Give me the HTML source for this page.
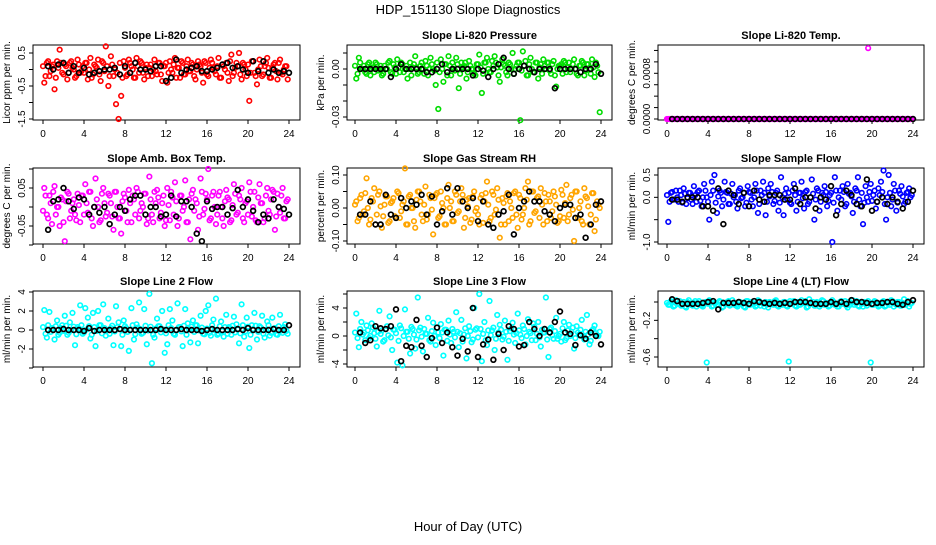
<!DOCTYPE html>
<html><head><meta charset="utf-8"><style>
html,body{margin:0;padding:0;background:#fff}
svg text{font-family:"Liberation Sans",sans-serif}
</style></head><body>
<svg id="chart" width="936" height="540" xmlns="http://www.w3.org/2000/svg">
<rect width="936" height="540" fill="#fff"/>
<text x="468" y="14" text-anchor="middle" font-size="13">HDP_151130  Slope Diagnostics</text>
<text x="468" y="531" text-anchor="middle" font-size="13">Hour of Day (UTC)</text>
</svg>
<script>
const xTicks = [0,4,8,12,16,20,24];
const titles = ["Slope Li-820 CO2","Slope Li-820 Pressure","Slope Li-820 Temp.","Slope Amb. Box Temp.","Slope Gas Stream RH","Slope Sample Flow","Slope Line 2 Flow","Slope Line 3 Flow","Slope Line 4 (LT) Flow"];
const yTitles = ["Licor ppm per min.","kPa per min.","degrees C per min.","degrees C per min.","percent per min.","ml/min per min.","ml/min per min.","ml/min per min.","ml/min per min."];
const colors = ["#ff0000","#00dd00","#ff00ff","#ff00ff","#ffa500","#0000ff","#00ffff","#00ffff","#00ffff"];
const yTickVals = [[0.5,0,-0.5,-1,-1.5],[0.01,0,-0.01,-0.02,-0.03],[0,0.0002,0.0004,0.0006,0.0008,0.001,0.0012],[0.1,0.05,0,-0.05,-0.1],[0.1,0.05,0,-0.05,-0.1],[0.5,0,-0.5,-1],[4,2,0,-2,-4],[6,4,2,0,-2,-4],[0,-0.2,-0.4,-0.6]];
const yTickLabels = [["0.5","","-0.5","","-1.5"],["","0.00","","","-0.03"],["0.0000","","","","0.0008","",""],["","0.05","","-0.05",""],["0.10","","0.00","","-0.10"],["0.5","0.0","","-1.0"],["4","2","0","-2",""],["","4","","0","","-4"],["","-0.2","","-0.6"]];
// colored series, 96 values each at hours 0.125 + 0.25*i
const co2 = [-0.4,0.2,-0.2,0.1,-0.6,0.25,0.6,-0.1,0.15,-0.3,0.2,0.05,-0.25,0.3,-0.1,0.1,
0.2,-0.3,0.35,-0.15,0.1,0.3,-0.35,0.2,0.7,-0.5,0.4,-0.2,-1.05,-1.5,-0.8,0.25,
-0.2,0.3,0.1,-0.25,0.35,-0.1,0.2,-0.3,0.15,0.05,-0.2,0.3,-0.15,0.2,-0.35,0.1,
-0.4,0.25,-0.1,0.35,0.05,-0.25,0.2,-0.15,0.3,-0.05,0.15,-0.3,0.25,0.1,-0.4,0.2,
-0.2,0.3,0.05,-0.15,0.35,-0.25,0.1,0.2,-0.35,0.45,-0.1,0.2,0.5,-0.3,0.15,-0.2,
-0.95,0.25,-0.1,-0.45,0.3,-0.2,0.1,0.35,-0.25,0.05,0.2,-0.3,0.3,-0.15,0.1,-0.3];
const pressure = [-0.006,0.007,0.0,0.002,-0.003,0.004,0.0,-0.002,0.003,0.0,-0.004,0.002,0.0,0.005,-0.003,0.001,
0.006,-0.002,0.003,0.0,-0.006,0.004,0.001,0.008,-0.003,0.002,0.0,0.005,-0.004,0.007,0.0,-0.01,
-0.025,0.006,-0.008,0.003,0.008,-0.004,0.0,0.007,-0.012,0.004,0.002,-0.006,0.005,0.0,-0.003,0.003,
0.009,-0.015,0.004,0.007,-0.002,0.005,0.008,0.001,-0.008,0.006,0.002,-0.004,0.003,0.01,0.0,0.004,
-0.032,0.011,0.005,-0.004,0.007,-0.002,0.004,-0.006,0.003,0.006,0.0,0.004,-0.003,0.005,-0.011,0.002,
0.003,0.005,-0.002,0.004,0.0,0.006,-0.003,0.002,0.005,-0.004,0.003,0.0,0.006,-0.005,0.002,-0.027];
const licorTemp = [0,0,0,0,0,0,0,0,0,0,0,0,0,0,0,0,
0,0,0,0,0,0,0,0,0,0,0,0,0,0,0,0,
0,0,0,0,0,0,0,0,0,0,0,0,0,0,0,0,
0,0,0,0,0,0,0,0,0,0,0,0,0,0,0,0,
0,0,0,0,0,0,0,0,0,0,0,0,0,0,0.00124,0,
0,0,0,0,0,0,0,0,0,0,0,0,0,0,0,0];
const boxTemp = [0.05,-0.02,0.03,-0.045,0.055,0.0,-0.05,0.02,-0.09,0.04,-0.03,0.01,-0.02,0.035,-0.04,0.03,
0.06,-0.015,0.04,-0.05,0.075,0.0,-0.035,0.05,-0.025,0.035,0.01,-0.06,0.04,-0.03,-0.07,0.035,
-0.01,0.045,-0.04,0.02,0.05,-0.03,0.01,0.035,-0.045,0.08,-0.02,0.04,0.045,-0.03,0.01,-0.05,
0.05,-0.035,0.025,0.065,-0.05,0.03,-0.01,0.07,-0.04,-0.085,0.045,0.02,-0.06,0.075,-0.02,0.035,
0.1,-0.03,0.04,-0.045,0.03,0.0,-0.05,0.045,0.02,-0.035,0.06,-0.02,0.03,0.05,-0.04,0.015,
0.065,-0.025,0.04,-0.04,0.06,0.01,-0.03,0.05,-0.02,0.045,-0.06,0.035,-0.015,0.05,-0.03,0.02];
const gasRH = [0.02,-0.03,0.04,-0.01,0.09,-0.05,0.03,0.06,-0.02,0.05,-0.06,0.01,0.035,-0.04,0.02,-0.025,
0.05,-0.03,0.01,0.12,-0.05,0.04,0.0,-0.06,0.05,0.02,-0.04,0.065,-0.02,0.03,-0.08,0.04,
-0.03,0.05,0.0,-0.05,0.07,0.02,-0.04,0.04,-0.01,0.06,-0.06,0.025,0.03,-0.035,0.05,0.0,
-0.05,0.04,0.02,0.08,-0.04,0.05,-0.02,0.06,-0.09,0.03,-0.05,0.045,0.02,-0.03,0.05,-0.06,
0.03,-0.02,0.06,0.08,-0.04,0.05,-0.01,0.035,0.06,-0.05,0.02,0.04,-0.03,0.05,0.01,-0.04,
0.055,-0.03,0.07,-0.02,0.04,-0.1,0.05,0.0,-0.04,0.06,0.03,-0.05,0.045,-0.07,0.02,0.0];
const sampleFlow = [-0.55,0.1,-0.05,0.15,-0.1,0.05,0.2,-0.15,0.1,-0.05,0.25,-0.1,0.15,-0.2,0.3,0.0,
-0.5,0.35,0.5,-0.35,0.15,-0.2,0.35,0.1,-0.15,0.3,0.05,-0.25,0.2,0.0,-0.2,0.25,
0.1,-0.2,0.3,-0.35,0.15,0.35,-0.4,0.2,0.3,-0.15,0.1,-0.3,0.45,-0.4,0.2,0.1,
-0.15,0.3,-0.3,0.1,0.35,-0.25,0.15,-0.1,0.4,-0.5,0.2,-0.3,0.1,0.25,-0.2,0.05,
-1.0,0.45,-0.3,0.15,0.25,-0.2,0.3,0.1,-0.35,0.2,0.45,-0.2,-0.6,0.25,-0.1,0.3,
0.05,-0.25,0.2,0.35,0.6,-0.5,0.5,-0.2,0.3,-0.3,0.15,0.25,-0.15,0.1,0.2,0.05];
const line2Flow = [2.1,-0.8,1.9,0.2,-1.0,1.0,-0.3,0.5,1.5,-0.5,0.8,1.8,-1.6,0.3,2.6,-0.4,
2.3,1.3,-0.9,1.8,-1.7,2.0,0.5,2.7,-0.6,1.2,0.2,-1.6,2.5,0.8,-1.7,1.0,
0.2,-2.2,2.3,-1.0,0.6,2.9,-0.4,2.2,-1.5,3.8,-3.5,-0.8,1.2,0.4,2.0,-2.4,
-1.5,2.2,1.0,-0.5,2.8,0.3,-1.7,2.2,0.7,-1.3,1.0,0.5,-1.4,1.5,-0.4,2.0,
2.6,-0.6,1.1,3.3,-0.4,0.9,-0.7,1.6,0.3,-0.5,1.4,0.6,-1.4,2.7,-0.7,1.3,
-1.9,0.5,1.8,-1.0,0.4,1.5,-0.8,0.9,-0.6,1.3,0.2,-0.5,1.6,-0.3,0.6,-0.4];
const line3Flow = [3.2,-1.6,2.0,0.5,1.5,-0.3,1.8,0.4,-1.5,3.6,0.8,-0.6,1.4,2.8,-2.0,0.9,
-3.8,1.5,-4.2,3.8,0.6,-2.5,1.0,-1.8,5.5,1.2,-2.2,0.3,2.6,-0.8,1.9,-1.3,
0.5,1.7,-2.8,0.9,2.2,-1.0,0.6,3.4,-1.6,2.3,0.2,-3.2,1.4,-0.9,4.0,1.1,
6.0,-3.6,2.0,-1.3,5.0,0.8,-2.0,3.0,1.6,-0.5,2.2,-3.4,0.7,1.9,-1.0,3.2,
0.2,1.5,-1.2,2.4,0.4,1.8,-0.6,2.0,-1.5,0.5,5.5,-3.0,1.2,-0.4,2.6,0.0,
-0.8,2.0,-0.3,1.6,0.6,-1.8,1.4,0.2,2.3,-0.5,3.0,-1.2,0.8,1.5,0.1,0.6];
const line4Flow = [-0.03,0.01,-0.05,0.02,-0.02,-0.04,0.0,-0.06,0.02,-0.03,-0.01,-0.05,0.01,-0.04,-0.02,-0.66,
0.02,-0.05,-0.01,-0.03,0.01,-0.06,-0.02,0.0,-0.04,0.02,-0.03,-0.05,0.0,-0.02,-0.06,0.01,
-0.03,-0.01,-0.05,0.02,-0.04,-0.02,0.0,-0.06,-0.01,-0.03,0.02,-0.05,-0.02,0.0,-0.04,-0.65,
-0.02,0.01,-0.05,-0.03,0.02,-0.01,-0.06,0.03,-0.02,-0.04,0.0,-0.05,0.02,-0.03,-0.01,-0.04,
0.02,-0.03,-0.05,0.0,-0.02,0.01,-0.06,-0.03,0.02,-0.01,-0.04,0.0,-0.05,-0.02,0.01,-0.66,
-0.03,0.0,-0.05,-0.02,0.01,-0.04,-0.01,0.02,-0.05,-0.03,0.0,-0.04,0.03,-0.02,-0.05,-0.01];
// dense core readings, 96 values each at hours 0.25*i
const co2Core = [0.1,-0.2,0.25,-0.05,0.15,-0.25,0.05,0.2,-0.15,0.1,-0.1,0.25,0.0,-0.2,0.15,-0.05,
-0.1,0.2,0.0,-0.25,0.15,0.05,-0.15,0.25,-0.05,0.1,-0.2,0.15,0.0,-0.1,0.2,-0.25,
0.05,-0.15,0.2,0.0,-0.25,0.1,0.25,-0.1,0.05,-0.2,0.15,0.0,-0.05,0.2,-0.15,0.1,
0.2,-0.1,0.0,0.15,-0.25,0.05,0.25,-0.15,0.1,-0.05,0.2,-0.2,0.0,0.15,-0.1,0.25,
-0.15,0.05,0.2,-0.05,0.1,-0.25,0.15,0.0,-0.1,0.25,-0.2,0.05,0.1,-0.15,0.2,0.0,
0.15,-0.1,0.25,-0.2,0.0,0.1,-0.15,0.2,0.05,-0.25,0.15,-0.05,0.2,-0.1,0.0,0.1];
const pressureCore = [0.002,-0.003,0.004,0.0,-0.002,0.003,-0.004,0.001,0.004,-0.001,0.002,-0.003,0.0,0.004,-0.002,0.003,
-0.003,0.001,0.004,-0.002,0.002,0.0,-0.004,0.003,0.001,-0.002,0.004,-0.003,0.002,0.0,0.003,-0.001,
0.004,-0.002,0.0,0.003,-0.004,0.002,0.004,-0.001,0.003,-0.003,0.001,0.004,-0.002,0.002,0.0,-0.004,
0.003,0.001,-0.003,0.004,0.0,-0.002,0.002,0.004,-0.004,0.001,0.003,-0.002,0.004,0.0,-0.003,0.002,
0.004,-0.001,0.002,-0.004,0.003,0.0,-0.002,0.004,0.001,-0.003,0.002,0.004,-0.001,0.003,-0.004,0.0,
0.002,-0.003,0.004,0.001,-0.002,0.003,0.0,-0.004,0.002,0.004,-0.001,0.003,-0.003,0.001,0.004,-0.002];
const licorTempCore = [0,0,0,0,0,0,0,0,0,0,0,0,0,0,0,0,
0,0,0,0,0,0,0,0,0,0,0,0,0,0,0,0,
0,0,0,0,0,0,0,0,0,0,0,0,0,0,0,0,
0,0,0,0,0,0,0,0,0,0,0,0,0,0,0,0,
0,0,0,0,0,0,0,0,0,0,0,0,0,0,0,0,
0,0,0,0,0,0,0,0,0,0,0,0,0,0,0,0];
const boxTempCore = [-0.01,0.03,-0.03,0.01,0.04,-0.02,0.0,0.025,-0.04,0.015,0.035,-0.01,0.02,-0.035,0.005,0.03,
-0.02,0.01,0.04,-0.03,0.0,0.02,-0.04,0.035,0.01,-0.015,0.03,-0.025,0.04,0.0,-0.03,0.015,
0.025,-0.04,0.01,0.03,-0.02,0.04,-0.01,0.0,0.035,-0.03,0.02,-0.04,0.01,0.025,-0.015,0.03,
-0.035,0.005,0.04,-0.02,0.015,-0.03,0.03,0.0,-0.04,0.02,0.035,-0.01,0.01,-0.025,0.04,-0.005,
0.02,-0.035,0.03,0.0,-0.02,0.04,-0.03,0.015,0.025,-0.04,0.005,0.035,-0.015,0.02,-0.03,0.01,
-0.02,0.04,0.0,-0.035,0.025,0.01,-0.04,0.03,-0.01,0.02,0.04,-0.025,0.0,0.03,-0.03,0.015];
const gasRHCore = [0.01,-0.04,0.03,-0.02,0.045,0.0,-0.035,0.02,-0.05,0.04,0.005,-0.025,0.035,-0.045,0.015,0.03,
-0.03,0.045,-0.01,0.02,-0.05,0.035,0.0,-0.04,0.025,0.05,-0.02,0.01,-0.035,0.04,-0.005,0.03,
0.045,-0.025,0.015,-0.05,0.03,0.0,-0.04,0.05,-0.015,0.02,0.04,-0.03,0.005,-0.045,0.035,-0.01,
-0.02,0.03,-0.045,0.045,0.01,-0.03,0.04,-0.005,0.025,-0.05,0.015,0.035,-0.04,0.0,0.045,-0.02,
0.04,-0.035,0.0,0.025,-0.05,0.05,-0.015,0.03,-0.03,0.01,0.045,-0.04,0.02,-0.01,0.035,-0.045,
-0.025,0.04,0.015,-0.04,0.03,-0.005,0.05,-0.03,0.02,-0.05,0.035,0.005,-0.02,0.045,-0.035,0.01];
const sampleFlowCore = [0.05,-0.1,0.12,-0.05,0.0,0.15,-0.12,0.08,-0.02,0.1,-0.15,0.05,0.12,-0.08,0.0,0.15,
-0.1,0.05,0.15,-0.12,0.02,0.1,-0.05,0.12,-0.15,0.08,0.0,-0.1,0.15,-0.02,0.1,-0.12,
0.12,-0.05,0.0,0.15,-0.15,0.05,0.1,-0.1,0.02,0.12,-0.08,0.15,-0.12,0.0,0.08,-0.05,
-0.12,0.15,0.05,-0.1,0.1,-0.02,0.12,-0.15,0.0,0.08,-0.05,0.15,-0.1,0.05,0.12,-0.08,
0.1,-0.12,0.15,0.0,-0.05,0.12,-0.15,0.08,0.02,-0.1,0.15,-0.05,0.1,-0.12,0.0,0.12,
-0.08,0.15,-0.1,0.05,0.12,-0.15,0.0,0.1,-0.05,0.15,-0.12,0.08,0.02,-0.1,0.12,0.0];
const line2FlowCore = [0.3,-0.4,0.5,-0.2,0.1,0.4,-0.5,0.2,-0.1,0.45,-0.3,0.0,0.35,-0.45,0.15,0.5,
-0.25,0.05,0.4,-0.5,0.3,-0.1,0.5,-0.35,0.2,0.0,-0.4,0.45,-0.15,0.3,0.1,-0.5,
0.4,-0.2,0.0,0.5,-0.45,0.25,0.1,-0.3,0.45,-0.05,0.35,-0.5,0.15,0.4,-0.25,0.05,
-0.35,0.5,0.2,-0.4,0.0,0.3,-0.15,0.45,-0.5,0.1,0.35,-0.2,0.5,-0.05,0.25,-0.45,
0.15,-0.3,0.5,0.0,-0.5,0.4,-0.1,0.3,-0.4,0.2,0.45,-0.25,0.05,-0.35,0.5,-0.15,
0.35,-0.5,0.1,0.45,-0.2,0.25,-0.4,0.0,0.5,-0.3,0.15,-0.45,0.4,-0.05,0.3,-0.1];
const line3FlowCore = [0.5,-0.3,1.0,0.2,-0.6,0.8,0.0,1.2,-0.4,0.6,0.3,-0.8,1.0,0.1,-0.2,0.9,
0.4,-0.7,1.1,0.0,0.6,-0.4,1.3,0.2,-0.5,0.8,-0.1,1.0,0.3,-0.6,0.7,0.0,
1.2,-0.3,0.5,0.9,-0.7,0.2,1.0,-0.2,0.6,0.4,-0.8,1.1,0.0,0.7,-0.5,0.9,
-0.2,1.0,0.3,-0.6,0.8,0.1,1.2,-0.4,0.5,0.9,-0.1,0.6,-0.7,1.1,0.2,0.4,
0.8,-0.3,1.0,0.0,0.6,-0.6,1.3,0.3,-0.2,0.9,0.5,-0.5,1.0,0.1,0.7,-0.4,
0.3,1.1,-0.6,0.8,0.0,1.2,-0.3,0.5,0.9,-0.1,0.6,0.2,-0.7,1.0,0.4,0.0];
const line4FlowCore = [-0.01,-0.03,0.0,-0.04,-0.02,0.01,-0.03,-0.05,0.0,-0.02,-0.04,0.01,-0.01,-0.03,-0.05,0.0,
-0.02,0.01,-0.04,-0.01,-0.03,0.0,-0.05,-0.02,0.01,-0.03,-0.01,-0.04,0.0,-0.02,-0.05,0.01,
-0.03,0.0,-0.02,-0.04,0.01,-0.01,-0.05,-0.03,0.0,-0.02,0.01,-0.04,-0.01,-0.03,0.0,-0.05,
0.01,-0.02,-0.04,0.0,-0.03,-0.01,0.01,-0.05,-0.02,0.0,-0.04,-0.01,-0.03,0.01,-0.02,-0.05,
-0.01,0.0,-0.03,-0.05,0.01,-0.02,-0.04,0.0,-0.01,-0.03,0.01,-0.05,-0.02,0.0,-0.04,-0.01,
-0.03,0.01,-0.02,-0.04,0.0,-0.05,-0.01,-0.03,0.01,-0.02,0.0,-0.04,-0.01,-0.03,0.01,-0.02];
// black (reference) series, values at hours 0.5*(i+1)
const co2Ref = [0.1,0.0,0.15,0.2,-0.1,0.1,-0.1,0.05,-0.15,-0.1,-0.05,0.0,0.0,0.05,-0.15,0.1,-0.1,0.2,0.0,0.0,-0.05,0.1,0.1,-0.35,-0.25,0.3,-0.1,0.0,0.05,0.1,-0.05,-0.05,0.0,0.05,0.15,0.2,0.05,0.1,0.0,-0.1,0.25,-0.05,0.25,-0.1,0.0,-0.1,-0.05,-0.1];
const pressureRef = [0,0,0,0,0,0,-0.005,0,0.003,0,0,0,0,-0.002,-0.002,0,0.003,-0.002,0,0,0,0,-0.004,0,-0.001,-0.005,0,0.003,0.007,0,-0.003,0,0.002,0,-0.002,0,0,0,-0.012,0,0,0,0,-0.002,0,0,0.003,-0.003];
const licorTempRef = [0,0,0,0,0,0,0,0,0,0,0,0,0,0,0,0,0,0,0,0,0,0,0,0,0,0,0,0,0,0,0,0,0,0,0,0,0,0,0,0,0,0,0,0,0,0,0,0];
const boxTempRef = [-0.06,0.015,0.02,0.05,0.015,-0.005,0.025,0.02,-0.02,0.0,-0.015,0.0,-0.045,-0.02,0.0,-0.01,0.02,0.03,0.03,-0.02,0.0,0.0,-0.025,-0.02,0.03,-0.025,0.015,0.015,0.0,-0.07,-0.09,0.015,-0.005,0.0,0.0,-0.02,-0.003,0.045,0.0,0.02,-0.01,-0.04,-0.02,-0.03,0.02,0.0,-0.005,-0.02];
const gasRHRef = [-0.02,-0.02,0.02,-0.05,-0.05,0.04,-0.02,-0.03,0.03,0.0,0.02,0.01,0.04,-0.02,0.035,-0.05,-0.01,0.06,-0.02,0.06,0.02,0.0,0.03,-0.04,0.02,-0.05,-0.06,-0.02,-0.01,0.04,-0.08,0.0,0.02,0.05,0.02,0.02,-0.01,-0.02,-0.04,0.0,0.01,0.01,-0.03,-0.02,-0.09,-0.05,0.01,0.02];
const sampleFlowRef = [-0.05,-0.05,-0.1,0.0,0.0,0.0,-0.2,-0.2,-0.3,0.2,-0.6,0.15,0.05,-0.15,0.1,-0.2,0.15,-0.05,-0.1,0.05,0.05,0.05,-0.05,-0.05,0.2,-0.15,0.0,0.0,-0.25,0.0,-0.05,0.25,-0.4,-0.15,0.15,0.05,-0.15,-0.2,0.4,-0.3,-0.1,0.0,-0.15,0.0,-0.1,-0.25,-0.1,0.15];
const line2FlowRef = [0,0,0,0.1,0,0,0,-0.1,0.2,-0.1,0,0,0,0,0.1,0,0,0,0,0,0,0,0.1,0,0,0,0.1,0,0,0,-0.1,0,0.1,0,0,0,0,0.1,0,0.2,0,0,0,0,0.1,0,0,0.5];
const line3FlowRef = [0.5,-1.0,-0.6,1.4,1.1,1.0,1.4,3.8,-3.6,-1.4,-1.6,2.3,-1.4,-3.0,-0.3,1.2,-1.0,0.5,-1.6,-2.8,-0.4,-2.2,4.0,-3.0,-1.2,-0.5,-3.4,0.3,-2.0,1.4,1.0,-1.5,-1.3,2.0,1.0,0.0,1.0,0.5,2.0,3.5,0.5,0.3,-1.3,0.1,-0.4,0.5,0.0,-1.2];
const line4FlowRef = [0.03,0.01,-0.02,-0.02,-0.02,-0.02,-0.01,0.0,0.01,-0.08,-0.01,-0.01,-0.01,0.0,-0.01,-0.02,0.01,0.0,-0.01,-0.02,-0.01,-0.02,-0.01,-0.02,0.0,0.0,0.0,-0.01,-0.02,-0.02,-0.02,0.0,-0.02,0.0,-0.02,0.02,0.0,0.0,-0.01,-0.02,-0.01,-0.01,0.0,0.0,-0.02,-0.03,0.0,0.02];

const series = [co2,pressure,licorTemp,boxTemp,gasRH,sampleFlow,line2Flow,line3Flow,line4Flow];
const coreSeries = [co2Core,pressureCore,licorTempCore,boxTempCore,gasRHCore,sampleFlowCore,line2FlowCore,line3FlowCore,line4FlowCore];
const refSeries = [co2Ref,pressureRef,licorTempRef,boxTempRef,gasRHRef,sampleFlowRef,line2FlowRef,line3FlowRef,line4FlowRef];

// layout (pixel geometry)
const colBox = [[33,300],[347,612],[658,924]];
const colX = [[43,289],[355,601],[667,913]];
const rowBox = [[45,120],[168,244],[291,367]];
const yCal = [[0.5,53,-1.5,119],[0,69,-0.03,117],[0,119,0.0008,73.3],[0.05,188,-0.05,226],[0.1,175,-0.1,241],[0.5,175,-1,242],[4,292,-2,349],[4,308,-4,364],[0,302,-0.6,357]];

const NS = "http://www.w3.org/2000/svg";
const svg = document.getElementById('chart');
function mk(tag, attrs, parent){const e=document.createElementNS(NS,tag);for(const k in attrs)e.setAttribute(k,attrs[k]);(parent||svg).appendChild(e);return e;}

for(let p=0;p<9;p++){
  const c=p%3, r=Math.floor(p/3);
  const [bx0,bx1]=colBox[c], [by0,by1]=rowBox[r];
  const [px0,px24]=colX[c];
  const xs = h => px0 + (px24-px0)*h/24;
  const [v1,p1,v2,p2]=yCal[p];
  const ys = v => p1 + (v-v1)*(p2-p1)/(v2-v1);
  const g = mk('g',{});
  
  
  const t = mk('text',{x:(bx0+bx1)/2,y:by0-6,'text-anchor':'middle','font-size':11,'font-weight':'bold'},g);
  t.textContent = titles[p];
  
  
  const box = mk('rect',{x:bx0,y:by0,width:bx1-bx0,height:by1-by0,fill:'none',stroke:'#000','stroke-width':1},g);
  
  
  const xa = mk('g',{},g);
  
  
  mk('line',{x1:xs(0),x2:xs(24),y1:by1,y2:by1,stroke:'#000'},xa);
  xTicks.forEach(v=>{
    mk('line',{x1:xs(v),x2:xs(v),y1:by1,y2:by1+4,stroke:'#000'},xa);
    const tl = mk('text',{x:xs(v),y:by1+17,'text-anchor':'middle','font-size':10},xa);
    tl.textContent = v;
    
    
  });
  const ya = mk('g',{},g);
  
  
  const tv = yTickVals[p];
  mk('line',{x1:bx0,x2:bx0,y1:ys(Math.max(...tv)),y2:ys(Math.min(...tv)),stroke:'#000'},ya);
  tv.forEach((v,i)=>{
    const y=ys(v);
    mk('line',{x1:bx0-4,x2:bx0,y1:y,y2:y,stroke:'#000'},ya);
    const lab = yTickLabels[p][i];
    if(lab){
      const tl = mk('text',{x:bx0-8,y:y,'text-anchor':'middle','font-size':10,transform:`rotate(-90 ${bx0-8} ${y})`},ya);
      tl.textContent = lab;
      
      
    }
  });
  const yt = mk('text',{x:bx0-23,y:(by0+by1)/2,'text-anchor':'middle','font-size':10,transform:`rotate(-90 ${bx0-23} ${(by0+by1)/2})`},g);
  yt.textContent = yTitles[p];
  
  
  const cg = mk('g',{fill:'none',stroke:colors[p],'stroke-width':1.6},g);
  
  
  coreSeries[p].forEach((v,i)=>{
    const pt = mk('circle',{cx:xs(0.25*i),cy:ys(v),r:2.3},cg);
    
    
  });
  series[p].forEach((v,i)=>{
    const pt = mk('circle',{cx:xs(0.125+0.25*i),cy:ys(v),r:2.3},cg);
    
    
  });
  const kg = mk('g',{fill:'none',stroke:'#000','stroke-width':1.7},g);
  
  
  refSeries[p].forEach((v,i)=>{
    const pt = mk('circle',{cx:xs(0.5*(i+1)),cy:ys(v),r:2.4},kg);
    
    
  });
}
</script>
</body></html>
